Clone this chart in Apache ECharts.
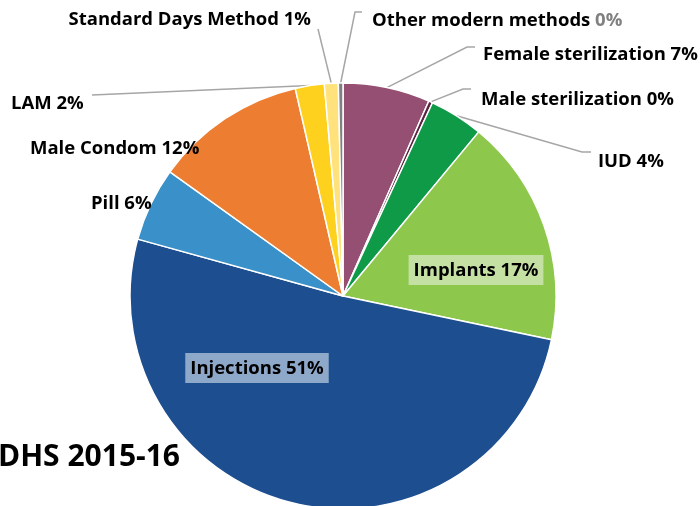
<!DOCTYPE html>
<html>
<head>
<meta charset="utf-8">
<script src="https://cdn.jsdelivr.net/npm/echarts@6/dist/echarts.min.js"></script>
<style>html,body{margin:0;padding:0;background:#fff}#c{width:700px;height:506px}</style>
</head>
<body>
<div id="c"></div>
<script>
const categories = ['Female sterilization','Male sterilization','IUD','Implants','Injections','Pill','Male Condom','LAM','Standard Days Method','Other modern methods'];
const shares = [6.6, 0.3, 4.1, 17.3, 51.0, 5.6, 11.5, 2.2, 1.05, 0.35];
const labelPercents = ['7%','0%','4%','17%','51%','6%','12%','2%','1%','0%'];
const title = 'DHS 2015-16';

const colors = ['#954F72','#5A2340','#0F9A48','#8DC74B','#1D4E8F','#3A91C9','#ED7D31','#FDD11E','#FFE27C','#808080'];

// label placement (layout only)
const placement = [
  {x:483, y:55, align:'left', line:[[467,47],[475,47]]},
  {x:481, y:100, align:'left', line:[[463,89],[471,89]]},
  {x:598, y:162, align:'left', line:[[582,152],[591,152]]},
  {x:476, y:270, align:'center', inside:true, bg:'#C4E0A3'},
  {x:257, y:368, align:'center', inside:true, bg:'#8EA8CA'},
  {x:91, y:204, align:'left', noLine:true},
  {x:30, y:149, align:'left', noLine:true},
  {x:11, y:104, align:'left', line:[[92,95]]},
  {x:311, y:20, align:'right', line:[[318,29]]},
  {x:372, y:21, align:'left', line:[[355,12],[362,12]]}
];

const font = '"Open Sans"';
const fs = 18.5;
const data = categories.map((name, i) => {
  const p = placement[i];
  const item = {name: name, value: shares[i], itemStyle: {color: colors[i]}};
  if (p.inside) {
    item.label = {position: 'inside', backgroundColor: p.bg, padding: [6, 5, 5, 5]};
    item.labelLine = {show: false};
  } else if (p.noLine) {
    item.labelLine = {show: false};
  }
  return item;
});

const chart = echarts.init(document.getElementById('c'), null, {renderer: 'canvas'});
chart.setOption({
  backgroundColor: '#ffffff',
  animation: false,
  graphic: [{
    type: 'text', right: 700 - 180, top: 442,
    style: {text: title, font: 'bold 30px ' + font, fill: '#000', textAlign: 'right'}
  }],
  series: [{
    type: 'pie',
    center: [343, 296],
    radius: [0, 213],
    startAngle: 90,
    clockwise: true,
    avoidLabelOverlap: false,
    minShowLabelAngle: 0,
    itemStyle: {borderColor: '#ffffff', borderWidth: 1.5},
    label: {
      show: true,
      position: 'outside',
      fontFamily: font,
      fontWeight: 'bold',
      fontSize: fs,
      color: '#000',
      formatter: function (p) {
        const i = p.dataIndex;
        if (i === categories.length - 1) {
          return '{a|' + categories[i] + ' }{g|' + labelPercents[i] + '}';
        }
        return categories[i] + ' ' + labelPercents[i];
      },
      rich: {
        a: {fontFamily: font, fontWeight: 'bold', fontSize: fs, color: '#000'},
        g: {fontFamily: font, fontWeight: 'bold', fontSize: fs, color: '#808080'}
      }
    },
    labelLine: {show: true, length: 10, length2: 10, lineStyle: {color: '#A6A6A6', width: 1.5}},
    labelLayout: function (params) {
      const p = placement[params.dataIndex];
      const out = {x: p.x, y: p.y, align: p.align, verticalAlign: 'middle'};
      if (p.line && params.labelLinePoints) {
        out.labelLinePoints = [params.labelLinePoints[0]].concat(p.line);
      }
      return out;
    },
    data: data
  }]
});
</script>
</body>
</html>
